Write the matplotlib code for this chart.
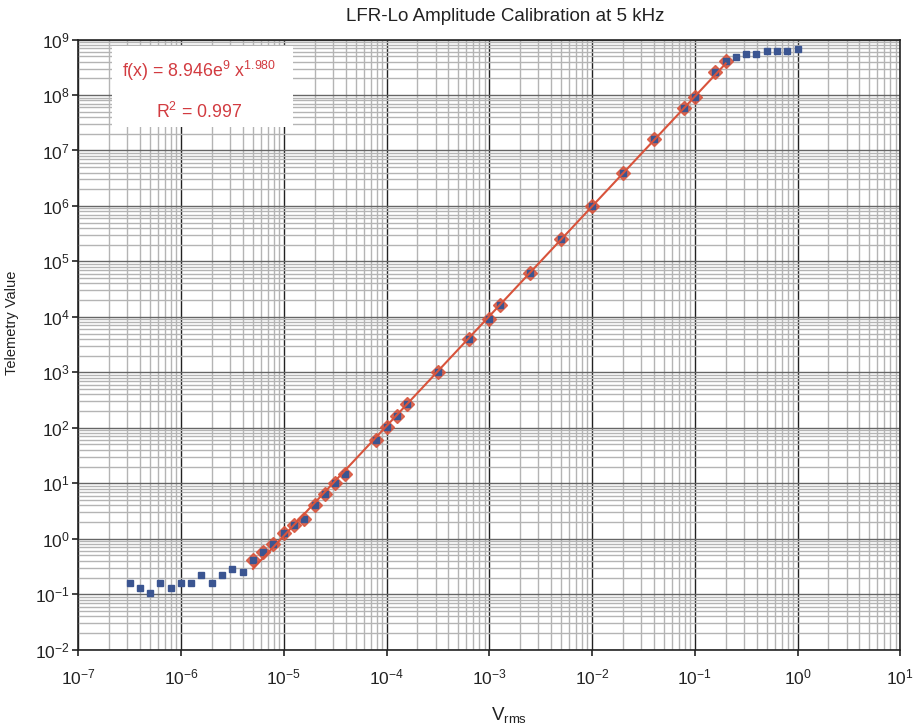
import numpy as np
import matplotlib
matplotlib.use("Agg")
import matplotlib.pyplot as plt
from matplotlib.ticker import LogLocator, LogFormatterMathtext, NullFormatter

plt.rcParams['font.family'] = ['Liberation Sans', 'DejaVu Sans']
plt.rcParams['mathtext.fontset'] = 'custom'
plt.rcParams['mathtext.rm'] = 'Liberation Sans'
plt.rcParams['mathtext.it'] = 'Liberation Sans:italic'

# Measured data (Vrms, telemetry)
vrms = [3.16e-7, 3.98e-7, 5.01e-7, 6.31e-7, 7.94e-7, 1.0e-6, 1.26e-6, 1.58e-6,
        2.0e-6, 2.51e-6, 3.16e-6, 3.98e-6,
        5.01e-6, 6.31e-6, 7.94e-6, 1.0e-5, 1.26e-5, 1.58e-5, 2.0e-5, 2.51e-5,
        3.16e-5, 3.98e-5, 7.94e-5, 1.0e-4, 1.26e-4, 1.58e-4, 3.16e-4, 6.31e-4,
        1.0e-3, 1.26e-3, 2.51e-3, 5.01e-3, 1.0e-2, 2.0e-2, 3.98e-2, 7.94e-2,
        1.0e-1, 1.58e-1, 2.0e-1,
        2.51e-1, 3.16e-1, 3.98e-1, 5.01e-1, 6.31e-1, 7.94e-1, 1.0]
telemetry = [0.159, 0.128, 0.104, 0.159, 0.128, 0.159, 0.159, 0.222,
             0.159, 0.222, 0.284, 0.251,
             0.413, 0.575, 0.794, 1.29, 1.79, 2.30, 4.01, 6.49,
             9.97, 14.9, 60.3, 105, 163, 265, 1026, 3937,
             9270, 16560, 62500, 2.5e5, 9.95e5, 3.97e6, 1.59e7, 5.82e7,
             9.3e7, 2.56e8, 4.05e8,
             4.77e8, 5.41e8, 5.41e8, 6.13e8, 6.13e8, 6.13e8, 6.75e8]

fit_lo, fit_hi = 5.0e-6, 0.21
fit_a, fit_b, fit_r2 = 8.946e9, 1.980, 0.997

vrms = np.array(vrms)
telemetry = np.array(telemetry)
mask = (vrms >= fit_lo) & (vrms <= fit_hi)

fig = plt.figure(figsize=(9.23, 7.28), dpi=100)
ax = fig.add_axes([0.0848, 0.1076, 0.8906, 0.8381])

ax.set_xscale('log')
ax.set_yscale('log')
ax.set_xlim(1e-7, 1e1)
ax.set_ylim(1e-2, 1e9)

red = '#d8533b'
blue = '#3b5591'

ax.plot(vrms[mask], telemetry[mask], linestyle='none', marker='D', ms=7.5,
        color=red, alpha=0.85, zorder=3)
ax.plot(vrms, telemetry, linestyle='none', marker='s', ms=4.3,
        color=blue, zorder=4)
xf = vrms[mask]
ax.plot(xf, fit_a * xf ** fit_b, color=red, lw=1.5, zorder=5)

ax.xaxis.set_major_locator(LogLocator(base=10, numticks=20))
ax.yaxis.set_major_locator(LogLocator(base=10, numticks=20))
ax.xaxis.set_minor_locator(LogLocator(base=10, subs=np.arange(2, 10), numticks=100))
ax.yaxis.set_minor_locator(LogLocator(base=10, subs=np.arange(2, 10), numticks=100))
ax.xaxis.set_minor_formatter(NullFormatter())
ax.yaxis.set_minor_formatter(NullFormatter())
ax.xaxis.set_major_formatter(LogFormatterMathtext())
ax.yaxis.set_major_formatter(LogFormatterMathtext())

ax.grid(True, which='minor', axis='both', color='#b4b4b4', lw=1.0, zorder=0)
ax.grid(True, which='major', axis='x', color='#222222', lw=1.0, zorder=1)
ax.grid(True, which='major', axis='y', color='#666666', lw=1.0, zorder=1)
ax.set_axisbelow(True)

ax.tick_params(which='major', direction='out', length=4, width=1.2,
               labelsize=12.5, colors='#222222')
ax.tick_params(axis='x', which='major', pad=9)
ax.tick_params(axis='y', which='major', pad=2)
ax.tick_params(which='minor', length=0)
for s in ax.spines.values():
    s.set_color('#222222')
    s.set_linewidth(1.2)

ax.set_title('LFR-Lo Amplitude Calibration at 5 kHz', fontsize=13.5,
             color='#222222', pad=13, x=0.519)
ax.set_xlabel('V$_{\\mathrm{rms}}$', fontsize=13.5, color='#222222')
ax.xaxis.set_label_coords(0.524, -0.09)
ax.set_ylabel('Telemetry Value', fontsize=10.5, color='#222222')
ax.yaxis.set_label_coords(-0.072, 0.535)

# annotation box
box = plt.Rectangle((0.041, 0.857), 0.22, 0.133, transform=ax.transAxes,
                    facecolor='white', edgecolor='none', zorder=6)
ax.add_patch(box)
txtc = '#d23b40'
ax.text(0.1466, 0.948, 'f(x) = %.3fe$^{9}$ x$^{%.3f}$' % (fit_a / 1e9, fit_b),
        transform=ax.transAxes, ha='center', va='center', fontsize=12.8,
        color=txtc, zorder=7)
ax.text(0.1466, 0.881, 'R$^{2}$ = %.3f' % fit_r2,
        transform=ax.transAxes, ha='center', va='center', fontsize=12.8,
        color=txtc, zorder=7)

fig.savefig('out.png', dpi=100)
